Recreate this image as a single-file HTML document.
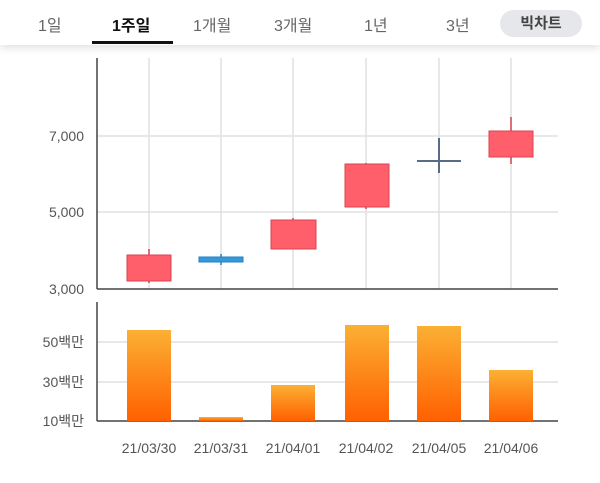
<!DOCTYPE html>
<html><head><meta charset="utf-8"><style>
body{margin:0;width:600px;height:483px;background:#fff;overflow:hidden;font-family:"Liberation Sans","Noto Sans CJK KR",sans-serif;}
.hdr{position:absolute;left:0;top:0;width:600px;height:45px;background:#fff;box-shadow:0 3px 8px rgba(0,0,0,0.12);}
.t{position:absolute;top:12px;font-size:16px;color:#666;}
</style></head><body>
<div class="hdr">
<div class="t" style="left:38px">1일</div>
<div class="t" style="left:112px;color:#111;font-weight:bold">1주일</div>
<div class="t" style="left:193px">1개월</div>
<div class="t" style="left:274px">3개월</div>
<div class="t" style="left:364px">1년</div>
<div class="t" style="left:446px">3년</div>
<div style="position:absolute;left:92px;top:41px;width:81px;height:3px;background:#111"></div>
<div style="position:absolute;left:500px;top:10px;width:82px;height:27px;border-radius:14px;background:#e6e7ea;color:#444;font-weight:bold;font-size:15px;text-align:center;line-height:27px">빅차트</div>
</div>
<svg width="600" height="483" style="position:absolute;left:0;top:0" font-family="Liberation Sans, Noto Sans CJK KR, sans-serif">
<g stroke="#e0e0e0" stroke-width="1.5">
<line x1="149" y1="58" x2="149" y2="289"/><line x1="221" y1="58" x2="221" y2="289"/><line x1="293" y1="58" x2="293" y2="289"/><line x1="366" y1="58" x2="366" y2="289"/><line x1="439" y1="58" x2="439" y2="289"/><line x1="511" y1="58" x2="511" y2="289"/>
<line x1="97" y1="136" x2="558" y2="136"/><line x1="97" y1="212" x2="558" y2="212"/>
<line x1="97" y1="342" x2="558" y2="342"/><line x1="97" y1="382" x2="558" y2="382"/>
</g>
<g stroke="#444" stroke-width="1.5"><line x1="97" y1="58" x2="97" y2="289"/><line x1="97" y1="289" x2="558" y2="289"/>
<line x1="97" y1="302" x2="97" y2="421"/><line x1="97" y1="421" x2="558" y2="421"/></g>
<g fill="#555" font-size="14" text-anchor="end"><text x="84" y="141">7,000</text><text x="84" y="217">5,000</text><text x="84" y="294">3,000</text>
<text x="84" y="347">50백만</text><text x="84" y="387">30백만</text><text x="84" y="426">10백만</text></g>
<g fill="#555" font-size="14" text-anchor="middle"><text x="149" y="453">21/03/30</text><text x="221" y="453">21/03/31</text><text x="293" y="453">21/04/01</text><text x="366" y="453">21/04/02</text><text x="439" y="453">21/04/05</text><text x="511" y="453">21/04/06</text></g>
<g stroke="#d9434f" stroke-width="1.5">
<line x1="149" y1="249" x2="149" y2="283"/><line x1="293" y1="218" x2="293" y2="249"/><line x1="366" y1="163" x2="366" y2="209"/><line x1="511" y1="117" x2="511" y2="164"/></g>
<g fill="#fe5f6b" stroke="#d9434f" stroke-width="1">
<rect x="127" y="255" width="44" height="26"/><rect x="271" y="220" width="45" height="29"/><rect x="345" y="164" width="44" height="43"/><rect x="489" y="131" width="44" height="26"/></g>
<line x1="221" y1="254" x2="221" y2="265" stroke="#2a7fbf" stroke-width="1.5"/>
<rect x="199" y="257" width="44" height="5" fill="#3299db" stroke="#2a7fbf"/>
<g stroke="#5a6b85" stroke-width="2"><line x1="439" y1="138" x2="439" y2="173"/><line x1="417" y1="161" x2="461" y2="161"/></g>
<defs><linearGradient id="g" x1="0" y1="0" x2="0" y2="1"><stop offset="0" stop-color="#fbb034"/><stop offset="1" stop-color="#ff6000"/></linearGradient></defs>
<g fill="url(#g)">
<rect x="127" y="330" width="44" height="91"/><rect x="199" y="417" width="44" height="4"/><rect x="271" y="385" width="44" height="36"/><rect x="345" y="325" width="44" height="96"/><rect x="417" y="326" width="44" height="95"/><rect x="489" y="370" width="44" height="51"/></g>
</svg>
</body></html>
